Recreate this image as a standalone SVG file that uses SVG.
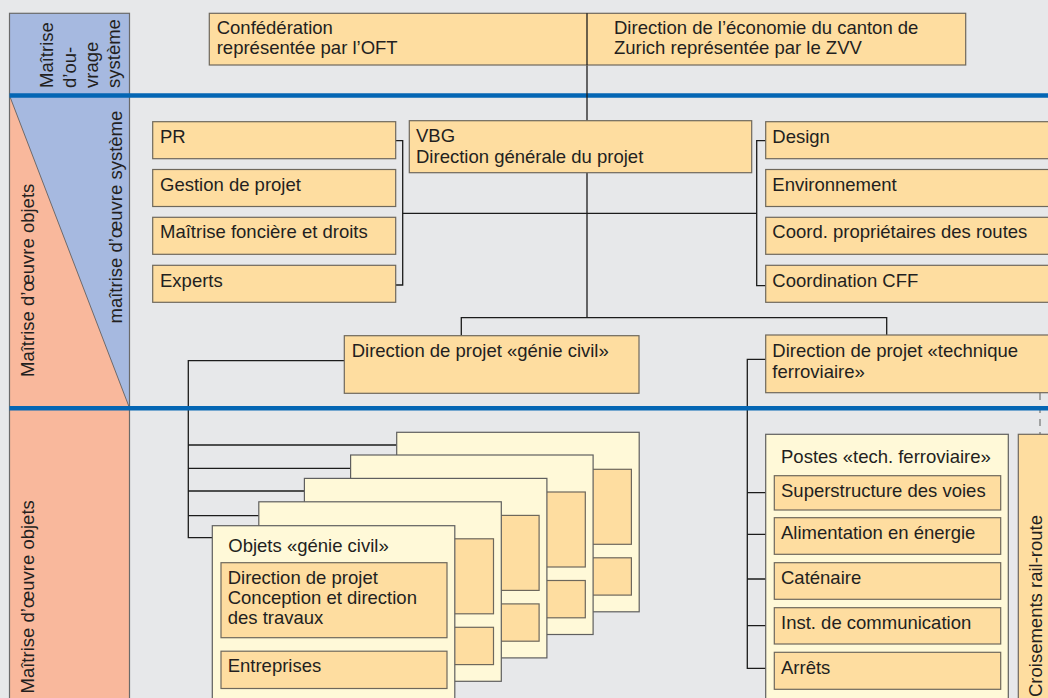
<svg xmlns="http://www.w3.org/2000/svg" width="1048" height="698" viewBox="0 0 1048 698">
<style>
text{font-family:"Liberation Sans",Arial,Helvetica,sans-serif;font-size:18.5px;fill:#231f20}
.box{fill:#fedda0;stroke:#6e685c;stroke-width:1.2}
.frame{fill:#fff9d8;stroke:#5f5f5f;stroke-width:1.2}
.con{fill:none;stroke:#1c1c1c;stroke-width:1.3}
.blue{stroke:#0466b4;stroke-width:4.4}
</style>
<rect x="0" y="0" width="1048" height="698" fill="#e7e8ea"/>
<g id="band">
<rect x="9.5" y="13.3" width="120" height="82" fill="#a6b9e0"/>
<rect x="9.5" y="95.5" width="120" height="313" fill="#a6b9e0"/>
<polygon points="9.5,95.5 129.5,408 9.5,408" fill="#f9b89c"/>
<line x1="9.5" y1="95.5" x2="129.5" y2="408" stroke="#555" stroke-width="0.8"/>
<rect x="9.5" y="408" width="120" height="300" fill="#f9b89c"/>
<rect x="9.5" y="13.3" width="120" height="700" fill="none" stroke="#6a6a6a" stroke-width="1.2"/>
<text transform="translate(53,88) rotate(-90)">Maîtrise</text>
<text transform="translate(76,88) rotate(-90)">d’ou-</text>
<text transform="translate(98,88) rotate(-90)">vrage</text>
<text transform="translate(120,88) rotate(-90)">système</text>
<text transform="translate(33.5,377) rotate(-90)">Maîtrise d’œuvre objets</text>
<text transform="translate(121.5,323.5) rotate(-90)">maîtrise d’œuvre système</text>
<text transform="translate(33.5,693.5) rotate(-90)">Maîtrise d’œuvre objets</text>
</g>
<g id="separators">
<line class="blue" x1="9.5" y1="95.5" x2="1048" y2="95.5"/>
</g>
<g id="connectors">
<line class="con" x1="587" y1="13.3" x2="587" y2="120.7"/>
<line class="con" x1="587" y1="172.7" x2="587" y2="317.7"/>
<path class="con" d="M395.7,140.7 H402.7 V285 H395.7"/>
<path class="con" d="M402.7,213.3 H756.7"/>
<path class="con" d="M765.7,140.7 H756.7 V285.7 H765.7"/>
<path class="con" d="M461.3,335.7 V317.7 H886.7 V335"/>
<path class="con" d="M344.3,360.7 H188.3 V537.7 H212.3 M188.3,445 H396.7 M188.3,468.3 H350.7 M188.3,491 H304.4 M188.3,515.7 H258.8"/>
<path class="con" d="M765.7,359.3 H747.3 V668.3 H774.3 M747.3,492.7 H774.3 M747.3,534.3 H774.3 M747.3,579 H774.3 M747.3,625.7 H774.3"/>
<line x1="1040" y1="393" x2="1040" y2="434" stroke="#8a8a8a" stroke-width="1.5" stroke-dasharray="7,6"/>
</g>
<g id="top">
<rect class="box" x="209.3" y="13.3" width="756.4" height="51.7"/>
<line class="con" x1="587" y1="13.3" x2="587" y2="65"/>
<text x="216.7" y="34">Confédération</text>
<text x="216.7" y="54">représentée par l’OFT</text>
<text x="614" y="34">Direction de l’économie du canton de</text>
<text x="614" y="54">Zurich représentée par le ZVV</text>
</g>
<g id="vbg">
<rect class="box" x="409.3" y="120.7" width="342.4" height="52"/>
<text x="416" y="142">VBG</text>
<text x="416" y="162.5">Direction générale du projet</text>
</g>
<g id="pr"><rect class="box" x="152.7" y="121.7" width="243" height="37"/><text x="160" y="142.7">PR</text></g>
<g id="gestion"><rect class="box" x="152.7" y="169.5" width="243" height="37"/><text x="160" y="190.5">Gestion de projet</text></g>
<g id="fonciere"><rect class="box" x="152.7" y="217.3" width="243" height="37"/><text x="160" y="238.3">Maîtrise foncière et droits</text></g>
<g id="experts"><rect class="box" x="152.7" y="265.3" width="243" height="37"/><text x="160" y="286.5">Experts</text></g>
<g id="design"><rect class="box" x="765.7" y="121.7" width="300" height="37"/><text x="772.3" y="142.7">Design</text></g>
<g id="environnement"><rect class="box" x="765.7" y="169.5" width="300" height="37"/><text x="772.3" y="190.5">Environnement</text></g>
<g id="coord"><rect class="box" x="765.7" y="217.3" width="300" height="37"/><text x="772.3" y="238.3">Coord. propriétaires des routes</text></g>
<g id="cff"><rect class="box" x="765.7" y="265.3" width="300" height="37"/><text x="772.3" y="286.5">Coordination CFF</text></g>
<g id="dp-genie">
<rect class="box" x="344.3" y="335.7" width="294.7" height="57.6"/>
<text x="351.7" y="357.3">Direction de projet «génie civil»</text>
</g>
<g id="dp-tech">
<rect class="box" x="765.7" y="335" width="300" height="57.7"/>
<text x="772.3" y="356.5">Direction de projet «technique</text>
<text x="772.3" y="377.5">ferroviaire»</text>
</g>
<g id="separators2">
<line class="blue" x1="9.5" y1="408.3" x2="1048" y2="408.3"/>
</g>
<g id="objets-stack">
<g transform="translate(396.7,432.3)"><rect class="frame" width="242.5" height="179.5"/><rect class="box" x="8.7" y="37" width="226" height="75"/><rect class="box" x="8.7" y="125.5" width="226" height="37.3"/></g>
<g transform="translate(350.6,455)"><rect class="frame" width="242.5" height="179.5"/><rect class="box" x="8.7" y="37" width="226" height="75"/><rect class="box" x="8.7" y="125.5" width="226" height="37.3"/></g>
<g transform="translate(304.4,478.4)"><rect class="frame" width="242.5" height="179.5"/><rect class="box" x="8.7" y="37" width="226" height="75"/><rect class="box" x="8.7" y="125.5" width="226" height="37.3"/></g>
<g transform="translate(258.8,501.8)"><rect class="frame" width="242.5" height="179.5"/><rect class="box" x="8.7" y="37" width="226" height="75"/><rect class="box" x="8.7" y="125.5" width="226" height="37.3"/></g>
</g>
<g id="objets-front">
<rect class="frame" x="212.3" y="525.7" width="242.5" height="179.5"/>
<text x="228.3" y="552">Objets «génie civil»</text>
<rect class="box" x="221" y="562.7" width="226" height="75"/>
<text x="227.7" y="584.3">Direction de projet</text>
<text x="227.7" y="604.3">Conception et direction</text>
<text x="227.7" y="624">des travaux</text>
<rect class="box" x="221" y="651.2" width="226" height="37.3"/>
<text x="227.7" y="672.3">Entreprises</text>
</g>
<g id="postes">
<rect class="frame" x="765.7" y="434.3" width="242.6" height="280"/>
<text x="781" y="463.3">Postes «tech. ferroviaire»</text>
<rect class="box" x="774.3" y="475.7" width="226.4" height="34.3"/><text x="781" y="497.3">Superstructure des voies</text>
<rect class="box" x="774.3" y="517.7" width="226.4" height="36.6"/><text x="781" y="539.3">Alimentation en énergie</text>
<rect class="box" x="774.3" y="562.7" width="226.4" height="36.6"/><text x="781" y="584.3">Caténaire</text>
<rect class="box" x="774.3" y="607.7" width="226.4" height="36.3"/><text x="781" y="629">Inst. de communication</text>
<rect class="box" x="774.3" y="652.3" width="226.4" height="37"/><text x="781" y="674">Arrêts</text>
</g>
<g id="croisements">
<rect class="box" x="1018.3" y="434.3" width="40" height="280"/>
<text transform="translate(1041.5,697) rotate(-90)">Croisements rail-route</text>
</g>
</svg>
